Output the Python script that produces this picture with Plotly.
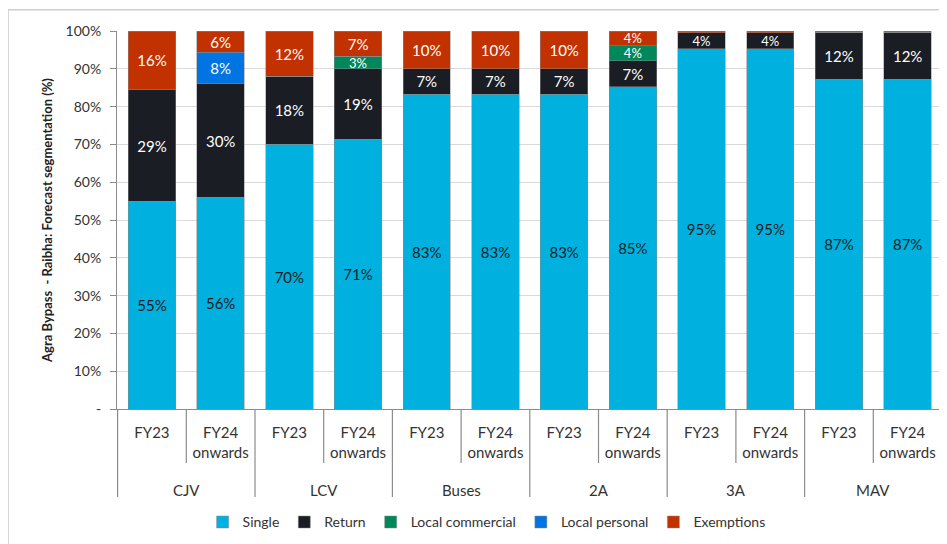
import plotly.graph_objects as go

vehicle_groups = ["CJV", "LCV", "Buses", "2A", "3A", "MAV"]
periods = ["FY23", "FY24<br>onwards"]
keys = [f"{g}|{p}" for g in vehicle_groups for p in periods]
key_labels = periods * len(vehicle_groups)

single = [55.0, 56.0, 70.0, 71.4, 83.3, 83.3, 83.3, 85.2, 95.3, 95.3, 87.3, 87.3]
ret = [29.4, 30.0, 18.0, 18.6, 6.7, 6.7, 6.7, 6.9, 4.3, 4.3, 12.4, 12.4]
local_commercial = [0, 0, 0, 3.3, 0, 0, 0, 4.0, 0, 0, 0, 0]
local_personal = [0, 8.4, 0, 0, 0, 0, 0, 0, 0, 0, 0, 0]
exemptions = [15.6, 5.6, 12.0, 6.7, 10.0, 10.0, 10.0, 3.9, 0.4, 0.4, 0.3, 0.3]

series = [
    ("Single", single, "#00B0DF", "#1A1D23"),
    ("Return", ret, "#1A1D23", "white"),
    ("Local commercial", local_commercial, "#00875A", "white"),
    ("Local personal", local_personal, "#0074E0", "white"),
    ("Exemptions", exemptions, "#C23200", "white"),
]

FONT = "Lato, Open Sans, sans-serif"
AXIS_GREY = "#8c8c8c"

fig = go.Figure()
for name, vals, color, tcol in series:
    fig.add_trace(go.Bar(
        name=name,
        x=keys,
        y=vals,
        marker=dict(color=color, line=dict(color="#8a8a8a", width=0.5)),
        text=[f"{v:.0f}%" if v >= 2 else "" for v in vals],
        textposition="inside",
        insidetextanchor="middle",
        textangle=0,
        constraintext="none",
        # thin segments get a slightly smaller label so they don't collide
        textfont=dict(color=tcol, family=FONT,
                      size=[13 if v < 5 else 15 for v in vals]),
        hoverinfo="skip",
    ))

# page has an 8px body margin, so the figure is drawn 8px smaller
fig.update_layout(
    barmode="stack",
    bargap=0.31,
    width=939,
    height=536,
    margin=dict(l=109, r=5, t=23, b=135),
    plot_bgcolor="white",
    paper_bgcolor="white",
    font=dict(family=FONT, size=14, color="#333333"),
    legend=dict(
        orientation="h", x=0.448, xanchor="center", y=-0.30, yanchor="middle",
        font=dict(size=14, color="#333333"), traceorder="normal",
        itemwidth=30,
    ),
    showlegend=True,
)

fig.update_yaxes(
    range=[0, 100],
    tickvals=[0, 10, 20, 30, 40, 50, 60, 70, 80, 90, 100],
    ticktext=["-", "10%", "20%", "30%", "40%", "50%", "60%", "70%", "80%", "90%", "100%"],
    showgrid=True, gridcolor="#d9d9d9", gridwidth=1,
    showline=True, linecolor=AXIS_GREY, linewidth=1,
    ticks="outside", ticklen=6, tickcolor=AXIS_GREY,
    ticklabelstandoff=6,
    tickfont=dict(size=14, color="#333333"),
    title=dict(text="<b>Agra Bypass  - Raibha: Forecast segmentation (%)</b>",
               font=dict(size=13, color="#222222"), standoff=10),
    zeroline=False,
)

fig.update_xaxes(
    type="category",
    tickvals=keys,
    ticktext=key_labels,
    showline=True, linecolor=AXIS_GREY, linewidth=1,
    ticks="", ticklabelstandoff=10,
    tickfont=dict(size=15, color="#333333"),
)

# separators below the axis: short ones between periods, long ones between groups
for i in range(len(vehicle_groups)):
    fig.add_shape(type="line", xref="x", yref="paper",
                  x0=2 * i - 0.5, x1=2 * i - 0.5, y0=0, y1=-0.233,
                  line=dict(color=AXIS_GREY, width=1.2))
    fig.add_shape(type="line", xref="x", yref="paper",
                  x0=2 * i + 0.5, x1=2 * i + 0.5, y0=0, y1=-0.143,
                  line=dict(color=AXIS_GREY, width=1.2))
    fig.add_annotation(x=2 * i + 0.5, xref="x", y=-0.214, yref="paper",
                       text=vehicle_groups[i], showarrow=False,
                       yanchor="middle", font=dict(size=15, color="#333333"))

fig.add_shape(type="rect", xref="paper", yref="paper",
              x0=-0.132, x1=1.0024, y0=-0.37, y1=1.056,
              line=dict(color="#d0d0d0", width=1.5), layer="below")

fig.write_html("out.html")
